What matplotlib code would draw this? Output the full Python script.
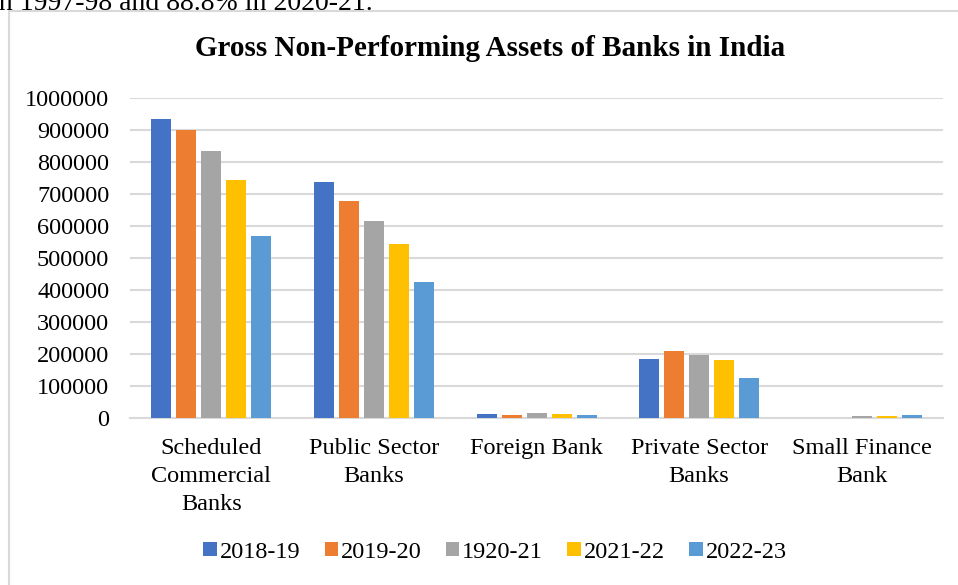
import matplotlib
matplotlib.use("Agg")
import matplotlib.pyplot as plt
import numpy as np
from matplotlib.patches import Rectangle

categories = ["Scheduled\nCommercial\nBanks", "Public Sector\nBanks", "Foreign Bank",
              "Private Sector\nBanks", "Small Finance\nBank"]
series_names = ["2018-19", "2019-20", "1920-21", "2021-22", "2022-23"]
v_2018_19 = [934000, 737000, 10400, 182000, 500]
v_2019_20 = [898000, 676000, 7300, 208000, 500]
v_1920_21 = [832000, 615000, 13500, 196000, 4200]
v_2021_22 = [741000, 541000, 12500, 179000, 4000]
v_2022_23 = [569000, 425000, 7300, 123000, 7000]
values = [v_2018_19, v_2019_20, v_1920_21, v_2021_22, v_2022_23]
colors = ["#4472C4", "#ED7D31", "#A5A5A5", "#FFC000", "#5B9BD5"]
yticks = list(range(0, 1000001, 100000))

plt.rcParams['font.family'] = ['Liberation Serif', 'DejaVu Serif']

W, H = 958, 585
fig = plt.figure(figsize=(W / 100, H / 100), dpi=100)

def fx(px):
    return px / W

def fy(py):
    return 1 - py / H

# outer border
fig.patches.append(Rectangle((fx(9), fy(600)), fx(1000), fy(11) - fy(600),
                             transform=fig.transFigure, fill=False,
                             edgecolor="#d9d9d9", linewidth=1.5))

# clipped paragraph text at top (cut off in the reference too)
fig.text(fx(-9), fy(10), "in 1997-98 and 88.8% in 2020-21.", fontsize=20,
         ha="left", va="baseline", color="black")

left, right, top, bottom = 130, 943, 97.5, 417.7
ax = fig.add_axes([fx(left), fy(bottom), fx(right - left), fy(top) - fy(bottom)])

x = np.arange(len(categories))
step = 25 / 162.6
bw = 20 / 162.6
for i, (name, vals, c) in enumerate(zip(series_names, values, colors)):
    ax.bar(x + (i - 2) * step, vals, width=bw, color=c, label=name, zorder=3)

ax.set_xlim(-0.5, len(categories) - 0.5)
ax.set_ylim(0, 1000000)
ax.set_yticks(yticks)
ax.set_yticklabels([str(v) for v in yticks], fontsize=17.5)
ax.set_xticks(x)
ax.set_xticklabels(categories, fontsize=17.5, linespacing=1.43)
ax.tick_params(axis="both", length=0)
ax.tick_params(axis="y", pad=15)
ax.tick_params(axis="x", pad=14.5)
ax.grid(axis="y", color="#d9d9d9", linewidth=1.5, zorder=0)
for s in ["top", "right", "left"]:
    ax.spines[s].set_visible(False)
ax.spines["bottom"].set_color("#d9d9d9")
ax.spines["bottom"].set_linewidth(1.5)

fig.text(fx(490), fy(48), "Gross Non-Performing Assets of Banks in India",
         fontsize=21, fontweight="bold", ha="center", va="center")

handles, labels = ax.get_legend_handles_labels()
fig.legend(handles, labels, loc="center", bbox_to_anchor=(fx(495), fy(552)),
           ncol=5, frameon=False, fontsize=17.5, handlelength=0.55,
           handleheight=0.55, handletextpad=0.12, columnspacing=1.0)

fig.savefig("out.png", dpi=100)
